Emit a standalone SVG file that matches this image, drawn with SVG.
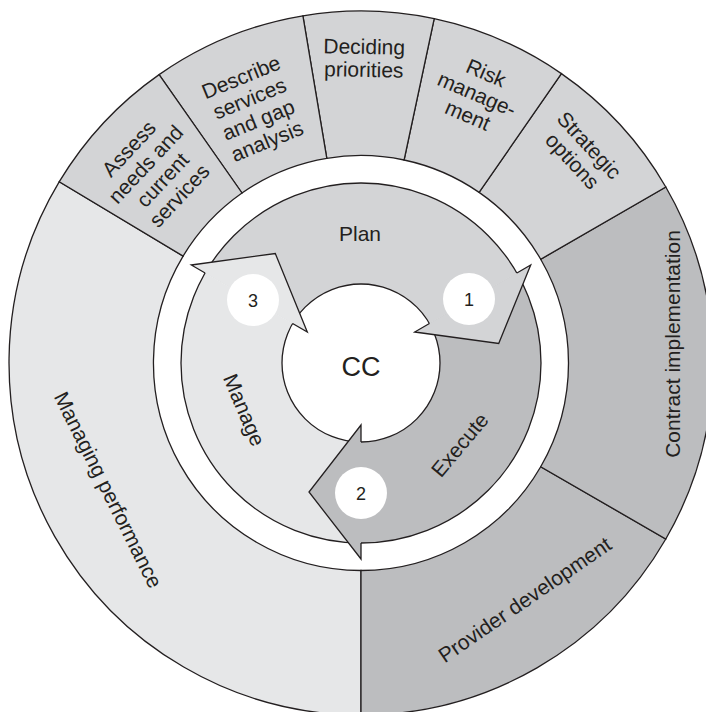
<svg xmlns="http://www.w3.org/2000/svg" width="706" height="712" viewBox="0 0 706 712">
<style>
.s{stroke:#231f20;stroke-width:1.3;stroke-linejoin:miter}
.top{fill:#d3d4d6}
.lite{fill:#e6e7e8}
.dark{fill:#bcbdbf}
.t{font-family:"Liberation Sans",Arial,sans-serif;font-size:21px;fill:#231f20;text-anchor:middle}
.n{font-family:"Liberation Sans",Arial,sans-serif;font-size:18px;fill:#231f20;text-anchor:middle}
.ln{fill:none;stroke:#231f20;stroke-width:1.3}
</style>
<rect width="706" height="712" fill="#ffffff"/>
<g id="outer-ring">
<g id="managing-performance">
<path class="s lite" d="M59.3,181.7 A352,352 0 0 0 361,715 L361,570.5 A207.5,207.5 0 0 1 183.1,256.1 Z"/>
<text class="t" transform="translate(108,490) rotate(63.5)" y="7">Managing performance</text>
</g>
<g id="provider-development">
<path class="s dark" d="M361,715 A352,352 0 0 0 665.8,539 L540.7,466.75 A207.5,207.5 0 0 1 361,570.5 Z"/>
<text class="t" transform="translate(525,600) rotate(-34.5)" y="7">Provider development</text>
</g>
<g id="contract-implementation">
<path class="s dark" d="M665.8,539 A352,352 0 0 0 665.8,187 L540.7,259.25 A207.5,207.5 0 0 1 540.7,466.75 Z"/>
<text class="t" transform="translate(673,344) rotate(-90)" y="7">Contract implementation</text>
</g>
<g id="strategic-options">
<path class="s top" d="M665.8,187 A352,352 0 0 0 561.4,73.6 L479.1,192.4 A207.5,207.5 0 0 1 540.7,259.25 Z"/>
<text class="t" transform="translate(581,153) rotate(47.2)"><tspan x="0" y="-4.1">Strategic</tspan><tspan x="0" y="18.9">options</tspan></text>
</g>
<g id="risk-management">
<path class="s top" d="M561.4,73.6 A352,352 0 0 0 434.2,18.7 L404.1,160 A207.5,207.5 0 0 1 479.1,192.4 Z"/>
<text class="t" transform="translate(477,94) rotate(23.35)"><tspan x="0" y="-15.6">Risk</tspan><tspan x="0" y="7.4">manage-</tspan><tspan x="0" y="30.4">ment</tspan></text>
</g>
<g id="deciding-priorities">
<path class="s top" d="M434.2,18.7 A352,352 0 0 0 302.9,15.8 L326.8,158.3 A207.5,207.5 0 0 1 404.1,160 Z"/>
<text class="t" transform="translate(364,58) rotate(1)"><tspan x="0" y="-4.1">Deciding</tspan><tspan x="0" y="18.9">priorities</tspan></text>
</g>
<g id="describe-services">
<path class="s top" d="M302.9,15.8 A352,352 0 0 0 159.1,74.6 L242,193 A207.5,207.5 0 0 1 326.8,158.3 Z"/>
<text class="t" transform="translate(254,109) rotate(-22.25)"><tspan x="0" y="-27.1">Describe</tspan><tspan x="0" y="-4.1">services</tspan><tspan x="0" y="18.9">and gap</tspan><tspan x="0" y="41.9">analysis</tspan></text>
</g>
<g id="assess-needs">
<path class="s top" d="M159.1,74.6 A352,352 0 0 0 59.3,181.7 L183.1,256.1 A207.5,207.5 0 0 1 242,193 Z"/>
<text class="t" transform="translate(154,172) rotate(-47)"><tspan x="0" y="-27.1">Assess</tspan><tspan x="0" y="-4.1">needs and</tspan><tspan x="0" y="18.9">current</tspan><tspan x="0" y="41.9">services</tspan></text>
</g>
</g>
<g id="cycle">
<g id="cc">
<circle cx="361" cy="363" r="79" fill="#ffffff"/>
</g>
<g id="plan-body"><path class="top" d="M205.1,273 A180,180 0 0 1 516.9,273 L429.4,323.5 A79,79 0 0 0 292.6,323.5 Z"/></g>
<g id="execute-body"><path class="dark" d="M516.9,273 A180,180 0 0 1 361,543 L361,442 A79,79 0 0 0 429.4,323.5 Z"/></g>
<g id="manage-body"><path class="lite" d="M361,543 A180,180 0 0 1 205.1,273 L292.6,323.5 A79,79 0 0 0 361,442 Z"/></g>
<g id="ring-lines">
<circle class="ln" cx="361" cy="363" r="180"/>
<circle class="ln" cx="361" cy="363" r="79"/>
</g>
<g id="plan-head"><path class="s top" d="M516.9,273 L530.7,265 L498.7,343.5 L414.7,332 L429.4,323.5"/></g>
<g id="execute-head"><path class="s dark" d="M361,543 L361,559 L309,492 L361,425 L361,442"/></g>
<g id="manage-head"><path class="s lite" d="M205.1,273 L191.3,265 L275.3,253.5 L307.3,332 L292.6,323.5"/></g>
<g id="step-1"><circle cx="469" cy="299" r="26" fill="#ffffff"/><text class="n" x="469" y="305.5">1</text></g>
<g id="step-2"><circle cx="361" cy="493" r="26" fill="#ffffff"/><text class="n" x="361" y="499.5">2</text></g>
<g id="step-3"><circle cx="253" cy="300" r="26" fill="#ffffff"/><text class="n" x="253" y="306.5">3</text></g>
<text class="t" x="360" y="241">Plan</text>
<text class="t" transform="translate(460,445) rotate(-50)" y="7">Execute</text>
<text class="t" transform="translate(244,410) rotate(67)" y="7">Manage</text>
<text class="t" x="361" y="376" style="font-size:27px">CC</text>
</g>
</svg>
